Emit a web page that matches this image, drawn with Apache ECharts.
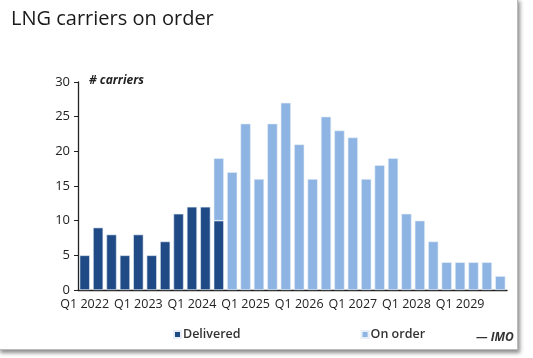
<!DOCTYPE html>
<html><head><meta charset="utf-8">
<script src="https://cdn.jsdelivr.net/npm/echarts@6/dist/echarts.min.js"></script>
<style>
html,body{margin:0;padding:0;background:#fff;}
#frame{position:absolute;left:-2px;top:-2px;width:518px;height:350px;border:1px solid #bbb;box-shadow:2px 3px 4px rgba(0,0,0,0.45);background:#fff;}
#chart{position:absolute;left:0;top:0;width:533px;height:358px;}
</style></head>
<body>
<div id="frame"></div>
<div id="chart"></div>
<script>
var years = ['2022','2023','2024','2025','2026','2027','2028','2029'];
var categories = [];
years.forEach(function(y){ ['Q1','Q2','Q3','Q4'].forEach(function(q){ categories.push(q + ' ' + y); }); });
var delivered = [5, 9, 8, 5, 8, 5, 7, 11, 12, 12, 10, '-', '-', '-', '-', '-', '-', '-', '-', '-', '-', '-', '-', '-', '-', '-', '-', '-', '-', '-', '-', '-'];
var onOrder = ['-', '-', '-', '-', '-', '-', '-', '-', '-', '-', 9, 17, 24, 16, 24, 27, 21, 16, 25, 23, 22, 16, 18, 19, 11, 10, 7, 4, 4, 4, 4, 2];
var yTicks = [0, 5, 10, 15, 20, 25, 30];

var font = 'Open Sans';
var chart = echarts.init(document.getElementById('chart'), null, {renderer:'canvas'});
chart.setOption({
  animation: false,
  title: {
    text: 'LNG carriers on order', left: 6, top: 4,
    textStyle: {fontFamily: font, fontSize: 20, fontWeight: 'normal', color: '#1a1a1a'}
  },
  legend: {
    data: ['Delivered', 'On order'],
    left: 168, top: 323, itemWidth: 7, itemHeight: 7, itemGap: 120, icon: 'rect',
    textStyle: {fontFamily: font, fontSize: 12.5, fontWeight: 600, color: '#333', padding: [0,0,0,-3]}
  },
  grid: {left: 78, right: 26, top: 82, bottom: 68},
  xAxis: {
    type: 'category', data: categories,
    axisLine: {lineStyle: {color: '#222', width: 1.3}},
    axisTick: {interval: 3, length: 4, lineStyle: {color: '#222'}},
    axisLabel: {
      interval: 3, margin: 8, color: '#222', fontFamily: font, fontSize: 12.5,
      formatter: function(v){ return v; }
    }
  },
  yAxis: {
    type: 'value', min: yTicks[0], max: yTicks[yTicks.length-1], interval: 5,
    axisLine: {show: true, lineStyle: {color: '#222', width: 1.3}},
    axisTick: {show: true, length: 4, lineStyle: {color: '#222'}},
    splitLine: {show: false},
    axisLabel: {color: '#222', fontFamily: font, fontSize: 13, margin: 8}
  },
  graphic: [
    {type: 'text', left: 89, top: 75, style: {text: '# carriers', fontFamily: font, fontSize: 12, fontStyle: 'italic', fontWeight: 'bold', fill: '#222'}},
    {type: 'text', left: 476, top: 332, style: {text: '\u2014 IMO', fontFamily: font, fontSize: 12, fontStyle: 'italic', fontWeight: 'bold', fill: '#333'}}
  ],
  series: [
    {name: 'Delivered', type: 'bar', stack: 'a', data: delivered, barCategoryGap: '24%',
     itemStyle: {color: '#1f4a85', borderColor: '#e8eef7', borderWidth: 0.6}},
    {name: 'On order', type: 'bar', stack: 'a', data: onOrder, barCategoryGap: '24%',
     itemStyle: {color: '#8db4e3', borderColor: '#e8eef7', borderWidth: 0.6}}
  ]
});
</script>
</body></html>
